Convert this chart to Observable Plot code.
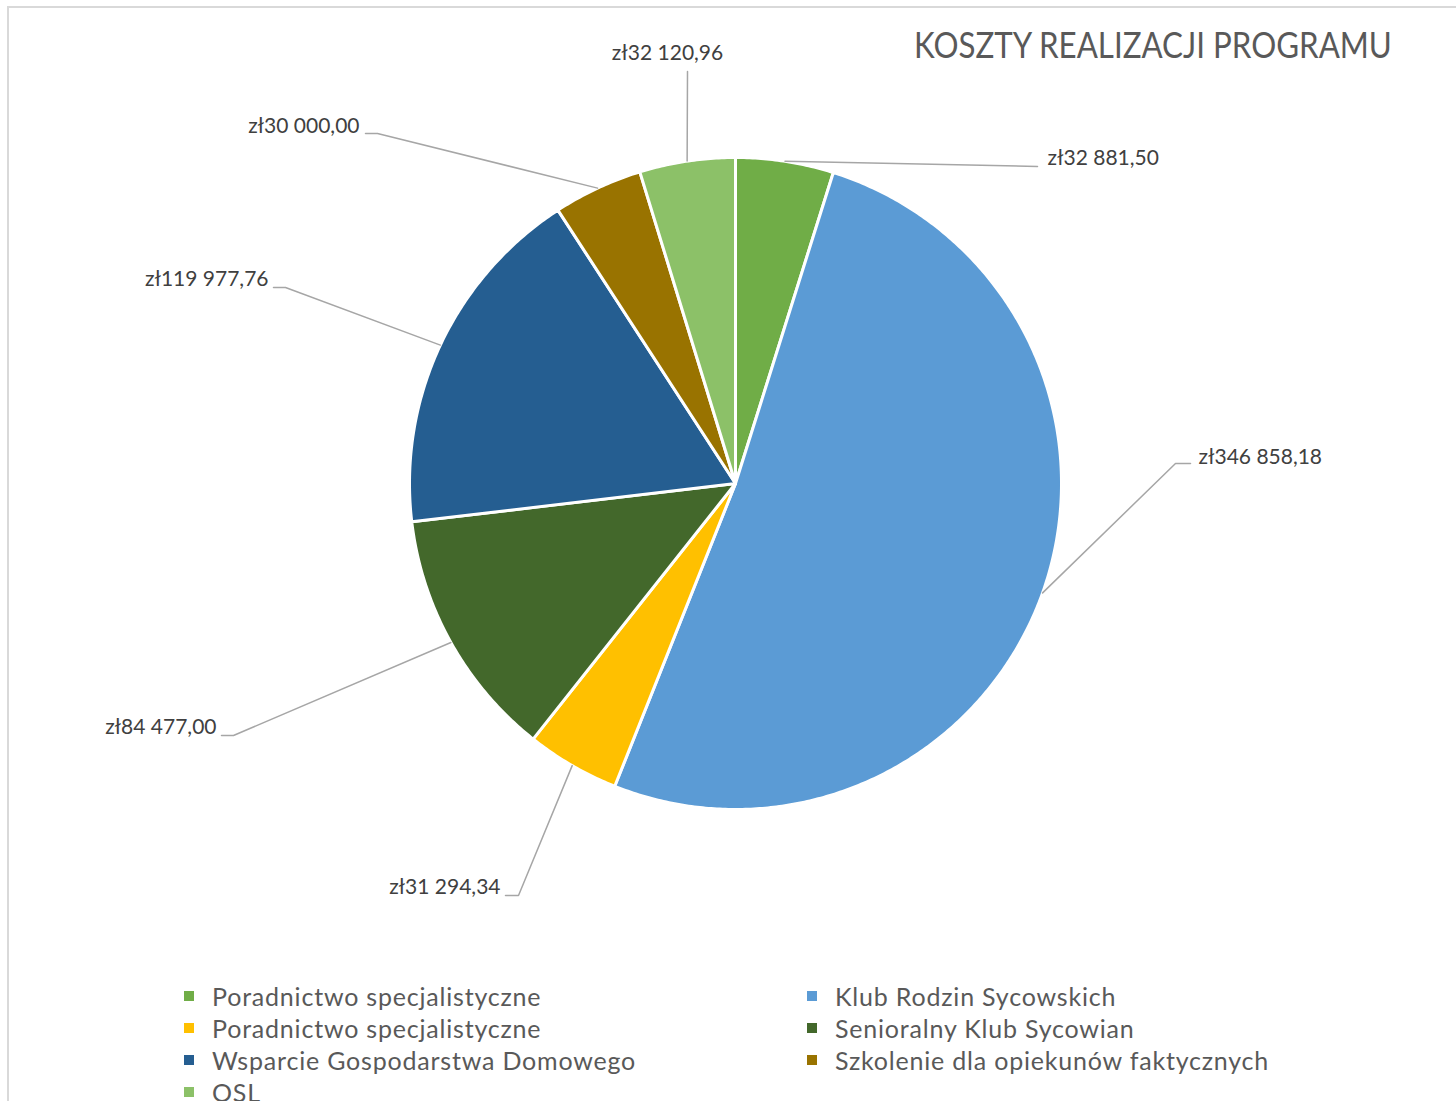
<!DOCTYPE html>
<html>
<head>
<meta charset="utf-8">
<script src="https://cdn.jsdelivr.net/npm/d3@7"></script>
<script src="https://cdn.jsdelivr.net/npm/@observablehq/plot@0.6"></script>
<style>
  body { margin: 0; background: #fff; }
  #wrap { position: relative; width: 1456px; height: 1101px; overflow: hidden; font-family: Lato, "Open Sans", sans-serif; }
  #frame { position: absolute; left: 7px; top: 6px; right: -4px; bottom: -4px; border-top: 2px solid #d9d9d9; border-left: 2px solid #d9d9d9; }
  #chart { position: absolute; left: 0; top: 0; }
  .leg-item { position: absolute; height: 32px; display: flex; align-items: center; white-space: nowrap; }
  .leg-sw { width: 10px; height: 10px; margin-right: 18px; flex: none; }
  .leg-tx { font-size: 25px; letter-spacing: 0.8px; color: #595959; }
</style>
</head>
<body>
<div id="wrap"><div id="frame"></div><div id="chart"></div></div>
<script>
// ---- data ----
const title = "KOSZTY REALIZACJI PROGRAMU";
const categories = [
  "Poradnictwo specjalistyczne",
  "Klub Rodzin Sycowskich",
  "Poradnictwo specjalistyczne",
  "Senioralny Klub Sycowian",
  "Wsparcie Gospodarstwa Domowego",
  "Szkolenie dla opiekunów faktycznych",
  "OSL"
];
const values = [32881.50, 346858.18, 31294.34, 84477.00, 119977.76, 30000.00, 32120.96];
const colors = ["#70AD47", "#5B9BD5", "#FFC000", "#43682B", "#255E91", "#997300", "#8CC168"];

// ---- layout (pixels) ----
const W = 1456, H = 960;
const cx = 735, cy = 483, R = 326;
const toX = p => (p - cx) / R;
const toY = p => (cy - p) / R;
// label placement (text anchor point + leader elbow points)
const labelLayout = [
  {tx: 1047, ty: 158, anchor: "start",  path: [[1037, 166]]},
  {tx: 1198, ty: 457, anchor: "start",  path: [[1175, 463], [1190, 463]]},
  {tx: 500,  ty: 887, anchor: "end",    path: [[518, 895], [505, 895]]},
  {tx: 216,  ty: 727, anchor: "end",    path: [[233, 735], [221, 735]]},
  {tx: 268,  ty: 279, anchor: "end",    path: [[285, 287], [273, 287]]},
  {tx: 359,  ty: 126, anchor: "end",    path: [[377, 133], [365, 133]]},
  {tx: 667,  ty: 53,  anchor: "middle", path: [[687, 71]]}
];

const fmt = d3.formatLocale({decimal: ",", thousands: " ", grouping: [3], currency: ["zł", ""]}).format("$,.2f");

// ---- slice geometry (unit circle, clockwise from 12 o'clock) ----
const total = d3.sum(values);
let acc = 0;
const slices = values.map((v, i) => {
  const a0 = acc / total * 2 * Math.PI; acc += v;
  const a1 = acc / total * 2 * Math.PI;
  return {i, a0, a1, mid: (a0 + a1) / 2, value: v};
});
const slicePts = slices.map(s => {
  const pts = [{i: s.i, x: 0, y: 0}];
  const n = Math.max(2, Math.ceil((s.a1 - s.a0) / (Math.PI / 360)));
  for (let k = 0; k <= n; k++) {
    const a = s.a0 + (s.a1 - s.a0) * k / n;
    pts.push({i: s.i, x: Math.sin(a), y: Math.cos(a)});
  }
  return pts;
});

const leaderPts = [];
const labels = [];
slices.forEach((s, i) => {
  const L = labelLayout[i];
  leaderPts.push({i, x: Math.sin(s.mid), y: Math.cos(s.mid)});
  L.path.forEach(([px, py]) => leaderPts.push({i, x: toX(px), y: toY(py)}));
  labels.push({i, x: toX(L.tx), y: toY(L.ty), text: fmt(s.value), anchor: L.anchor});
});

const marks = [];
slicePts.forEach((pts, i) => {
  marks.push(Plot.line(pts, {x: "x", y: "y", curve: "linear-closed", fill: colors[i], stroke: "#ffffff", strokeWidth: 3, strokeLinejoin: "round"}));
});
marks.push(Plot.line(leaderPts, {x: "x", y: "y", z: "i", stroke: "#a6a6a6", strokeWidth: 1.5}));
["start", "end", "middle"].forEach(a => {
  marks.push(Plot.text(labels.filter(d => d.anchor === a), {x: "x", y: "y", text: "text", textAnchor: a, fontSize: 21, fill: "#404040"}));
});

const svg = Plot.plot({
  width: W, height: H,
  margin: 0,
  style: {fontFamily: "Lato, 'Open Sans', sans-serif", background: "transparent", overflow: "visible"},
  x: {domain: [-1, 1], range: [cx - R, cx + R], axis: null},
  y: {domain: [-1, 1], range: [cy + R, cy - R], axis: null},
  marks
});
document.getElementById("chart").appendChild(svg);

// title (horizontally condensed to the reference width)
const titleNode = d3.select(svg).append("text")
  .attr("x", 0).attr("y", 0)
  .attr("text-anchor", "start")
  .attr("font-size", 36).attr("fill", "#595959")
  .style("font-family", "Lato, 'Open Sans', sans-serif")
  .text(title);
const natural = titleNode.node().getComputedTextLength() || 478;
titleNode.attr("transform", `translate(914,58) scale(${478 / natural},1)`);

// legend (HTML, below the chart)
const wrap = d3.select("#wrap");
const colX = [184, 807];
categories.forEach((c, i) => {
  const col = i % 2, row = Math.floor(i / 2);
  const item = wrap.append("div").attr("class", "leg-item")
    .style("left", colX[col] + "px").style("top", (996 + 32 * row - 16) + "px");
  item.append("div").attr("class", "leg-sw").style("background", colors[i]);
  item.append("span").attr("class", "leg-tx").text(c);
});
</script>
</body>
</html>
